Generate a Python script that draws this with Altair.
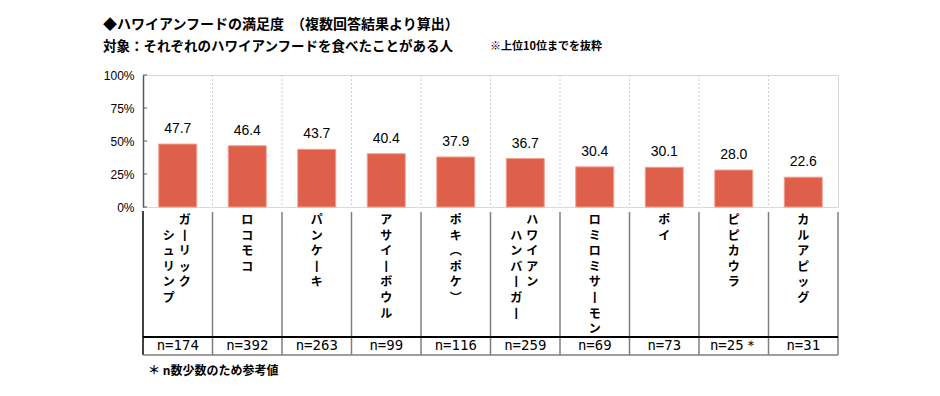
import altair as alt
import pandas as pd

# ---- data ----
food_names = ["ガーリックシュリンプ", "ロコモコ", "パンケーキ", "アサイーボウル", "ポキ（ポケ）",
              "ハワイアンハンバーガー", "ロミロミサーモン", "ポイ", "ピピカウラ", "カルアピッグ"]
label_col1 = ["ガーリック", "ロコモコ", "パンケーキ", "アサイーボウル", "ポキ（ポケ）",
              "ハワイアン", "ロミロミサーモン", "ポイ", "ピピカウラ", "カルアピッグ"]
label_col2 = ["シュリンプ", "", "", "", "", "ハンバーガー", "", "", "", ""]
satisfaction = [47.7, 46.4, 43.7, 40.4, 37.9, 36.7, 30.4, 30.1, 28.0, 22.6]
n_labels = ["n=174", "n=392", "n=263", "n=99", "n=116", "n=259", "n=69", "n=73", "n=25＊", "n=31"]
y_ticks = [0, 25, 50, 75, 100]

title1 = "◆ハワイアンフードの満足度　（複数回答結果より算出）"
title2 = "対象：それぞれのハワイアンフードを食べたことがある人"
note = "※上位10位までを抜粋"
footnote = "＊ n数少数のため参考値"

VERT = {"ー": "丨", "（": "︵", "）": "︶"}


def vertical(s, lead=False):
    chars = [VERT.get(c, c) for c in s]
    if lead:
        chars = ["　"] + chars
    return "\n".join(chars)


df = pd.DataFrame({
    "food": food_names,
    "col1": [vertical(s) for s in label_col1],
    "col2": [vertical(s, lead=True) if s else "" for s in label_col2],
    "two": [bool(s) for s in label_col2],
    "value": satisfaction,
    "n": n_labels,
})

W, H = 695, 132
JP = "Noto Sans CJK JP"
NUM = "Liberation Sans"

xs = alt.Scale(type="band", domain=food_names, paddingInner=0, paddingOuter=0)
x = alt.X("food:N", sort=food_names, scale=xs, axis=None)
x_edge = alt.X("food:N", sort=food_names, scale=xs, axis=None, bandPosition=0)

ys = alt.Scale(domain=[0, 100])
y_axis = alt.Axis(values=y_ticks, labelExpr="datum.value + '%'", grid=False, ticks=False,
                  labelOverlap=False, tickCount=5, domainColor="#595959", domainWidth=1.5,
                  labelFont=NUM, labelFontSize=12, labelColor="#000000", labelPadding=9, title=None)

base = alt.Chart(df)

bars = base.mark_bar(width=38, color="#DE5F4A", stroke="#F2A090", strokeWidth=1).encode(
    x=x, y=alt.Y("value:Q", scale=ys, axis=y_axis))

value_text = base.mark_text(baseline="bottom", dy=-8, font=NUM, fontSize=14, color="#000000").encode(
    x=x, y=alt.Y("value:Q", scale=ys, axis=y_axis), text=alt.Text("value:Q", format=".1f"))

grid = base.transform_filter(alt.datum.food != food_names[0]).mark_rule(
    color="#cfcfcf", strokeDash=[2, 2], strokeWidth=1).encode(
    x=x_edge, y=alt.value(0), y2=alt.value(H))

ticks = alt.Chart(pd.DataFrame({"value": y_ticks})).mark_rule(color="#595959", strokeWidth=1).encode(
    y=alt.Y("value:Q", scale=ys, axis=y_axis), x=alt.value(0), x2=alt.value(4))

dividers = base.mark_rule(color="#7f7f7f", strokeWidth=1.5).encode(
    x=x_edge, y=alt.value(137), y2=alt.value(280))
left_border = alt.Chart(pd.DataFrame({"k": [0]})).mark_rule(color="#404040", strokeWidth=2).encode(
    x=alt.value(0), y=alt.value(136), y2=alt.value(280))
right_border = alt.Chart(pd.DataFrame({"k": [0]})).mark_rule(color="#7f7f7f", strokeWidth=1.5).encode(
    x=alt.value(W), y=alt.value(137), y2=alt.value(280))
thick_line = alt.Chart(pd.DataFrame({"k": [0]})).mark_rule(color="#000000", strokeWidth=2).encode(
    x=alt.value(0), x2=alt.value(W), y=alt.value(262))
bottom_line = alt.Chart(pd.DataFrame({"k": [0]})).mark_rule(color="#7f7f7f", strokeWidth=1.5).encode(
    x=alt.value(0), x2=alt.value(W), y=alt.value(280))

lab_kw = dict(baseline="top", lineBreak="\n", lineHeight=15.6, font=JP, fontWeight="bold",
              fontSize=12, color="#000000")
labels_single = base.transform_filter("!datum.two").mark_text(**lab_kw).encode(
    x=x, y=alt.value(140), text="col1:N")
labels_right = base.transform_filter("datum.two").mark_text(dx=7, **lab_kw).encode(
    x=x, y=alt.value(140), text="col1:N")
labels_left = base.transform_filter("datum.two").mark_text(dx=-9, **lab_kw).encode(
    x=x, y=alt.value(140), text="col2:N")

n_text = base.mark_text(baseline="middle", font="DejaVu Sans Mono", fontSize=14, color="#000000").encode(
    x=x, y=alt.value(271), text="n:N")


def free_text(t, xv, yv, size, weight="bold"):
    return alt.Chart(pd.DataFrame({"t": [t]})).mark_text(
        align="left", baseline="middle", font=JP, fontSize=size, fontWeight=weight, color="#000000"
    ).encode(text="t:N", x=alt.value(xv), y=alt.value(yv))


t1 = free_text(title1, -40, -50, 14)
t2 = free_text(title2, -40, -28, 13.5)
t3 = free_text(note, 347, -28, 11)
t4 = free_text(footnote, 5, 296, 12)

chart = alt.layer(
    grid, bars, value_text, ticks, dividers, left_border, right_border, thick_line, bottom_line,
    labels_single, labels_right, labels_left, n_text, t1, t2, t3, t4
).properties(
    width=W, height=H,
    autosize=alt.AutoSizeParams(type="none"),
    padding={"left": 135, "top": 67, "right": 94, "bottom": 180},
    background="white",
).configure_view(stroke="#d9d9d9", strokeWidth=1)

chart.save("out.html", embed_options={"renderer": "svg", "actions": False})
